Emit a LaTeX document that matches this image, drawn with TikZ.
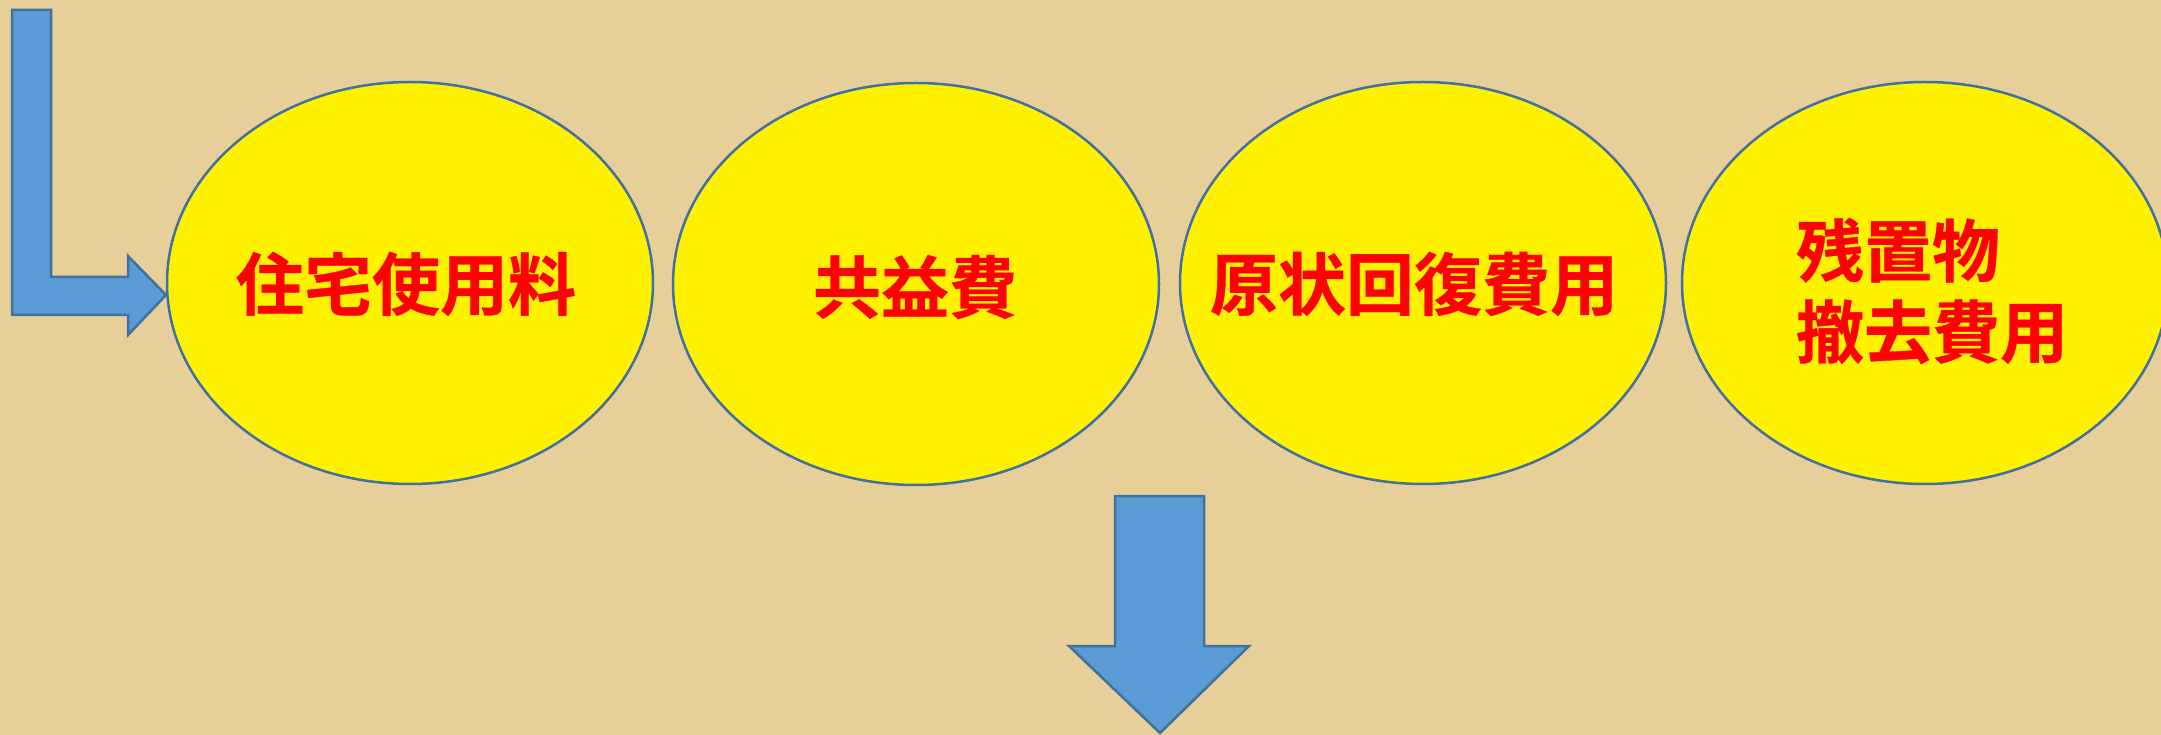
\documentclass[tikz,border=0pt]{standalone}
\usepackage{fontspec}
\newfontfamily\cjk{Noto Sans CJK JP}[BoldFont={Noto Sans CJK JP Bold}, BoldFeatures={FakeBold=0.5}]
\usetikzlibrary{shapes.geometric}
\definecolor{parch}{RGB}{231,207,154}
\definecolor{arrowfill}{RGB}{91,155,213}
\definecolor{arrowline}{RGB}{65,113,156}
\definecolor{txtred}{RGB}{255,0,0}
\tikzset{
  bubble/.style={ellipse, draw=arrowline, line width=2.5pt, fill=yellow,
    minimum width=486pt, minimum height=402pt, inner sep=0pt},
  label/.style={inner sep=0pt, text=txtred, align=left,
    font=\cjk\bfseries\fontsize{68}{81}\selectfont},
  blockarrow/.style={fill=arrowfill, draw=arrowline, line width=2.5pt, line join=miter}
}
\begin{document}
\begin{tikzpicture}[x=1pt,y=-1pt]
\fill[parch] (0,0) rectangle (2161,735);
\useasboundingbox (0,0) rectangle (2161,735);
\node[bubble] (e1) at (410,283) {};
\node[bubble] (e2) at (916,284) {};
\node[bubble] (e3) at (1423,283) {};
\node[bubble] (e4) at (1925,283) {};
\node[label] (t1) at (406,284) {住宅使用料};
\node[label] (t2) at (915,287) {共益費};
\node[label] (t3) at (1414,284) {原状回復費用};
\node[label] (t4) at (1932,291) {残置物\\撤去費用};
% L-shaped arrow into first bubble
\coordinate (ltip) at (166,295);
\draw[blockarrow] (12,10) -- (51,10) -- (51,277) -- (128,277) -- (128,256)
  -- (ltip) -- (128,335) -- (128,315) -- (12,315) -- cycle;
% down arrow
\coordinate (dtip) at (1160,733);
\draw[blockarrow] (1115,496) -- (1204,496) -- (1204,646) -- (1249,646)
  -- (dtip) -- (1069,646) -- (1115,646) -- cycle;
\end{tikzpicture}
\end{document}
